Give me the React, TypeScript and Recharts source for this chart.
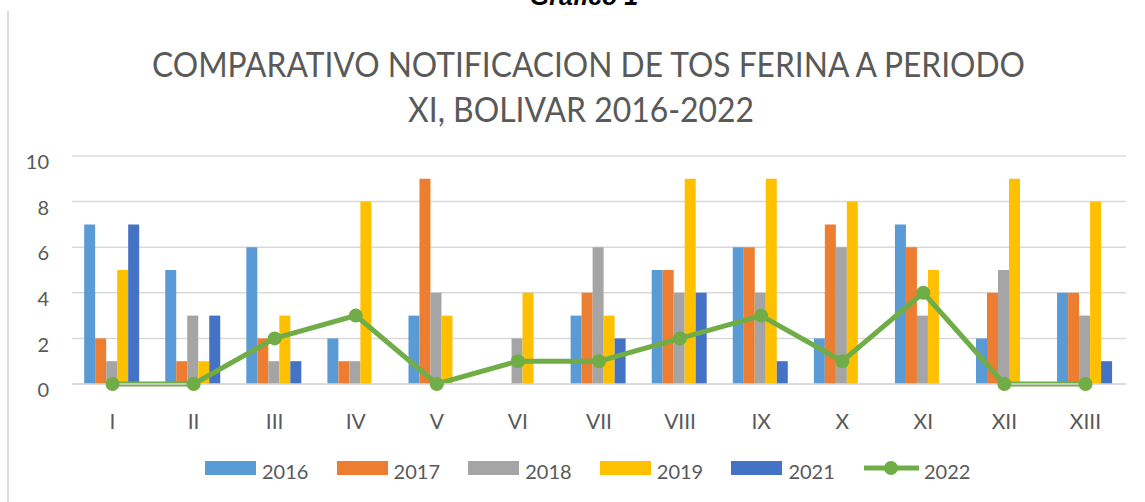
import React from 'react';
import { ComposedChart, Bar, Line, XAxis, YAxis, CartesianGrid, Legend } from 'recharts';

const periods = ['I', 'II', 'III', 'IV', 'V', 'VI', 'VII', 'VIII', 'IX', 'X', 'XI', 'XII', 'XIII'];
const cases2016 = [7, 5, 6, 2, 3, 0, 3, 5, 6, 2, 7, 2, 4];
const cases2017 = [2, 1, 2, 1, 9, 0, 4, 5, 6, 7, 6, 4, 4];
const cases2018 = [1, 3, 1, 1, 4, 2, 6, 4, 4, 6, 3, 5, 3];
const cases2019 = [5, 1, 3, 8, 3, 4, 3, 9, 9, 8, 5, 9, 8];
const cases2021 = [7, 3, 1, 0, 0, 0, 2, 4, 1, 0, 0, 0, 1];
const cases2022 = [0, 0, 2, 3, 0, 1, 1, 2, 3, 1, 4, 0, 0];
const yTicks = [0, 2, 4, 6, 8, 10];

const barSeries = [
  { key: 'y2016', name: '2016', color: '#5B9BD5' },
  { key: 'y2017', name: '2017', color: '#ED7D31' },
  { key: 'y2018', name: '2018', color: '#A5A5A5' },
  { key: 'y2019', name: '2019', color: '#FFC000' },
  { key: 'y2021', name: '2021', color: '#4472C4' },
];
const lineColor = '#70AD47';

const data = periods.map((p, i) => ({
  period: p,
  y2016: cases2016[i],
  y2017: cases2017[i],
  y2018: cases2018[i],
  y2019: cases2019[i],
  y2021: cases2021[i],
  y2022: cases2022[i],
}));

const FONT = 'Lato, "Open Sans", sans-serif';
const TEXT = '#595959';
const GRID = '#D9D9D9';

const YTick = ({ x, y, payload }: any) => (
  <text x={x} y={y + 6} dy="0.355em" textAnchor="end" fill={TEXT} fontSize={20} fontFamily={FONT}>
    {payload.value}
  </text>
);

const XTick = ({ x, y, payload }: any) => (
  <text x={x} y={y + 45} textAnchor="middle" fill={TEXT} fontSize={21} fontFamily={FONT}>
    {payload.value}
  </text>
);

const LegendContent = () => (
  <div style={{ display: 'flex', height: 30, paddingLeft: 205, fontFamily: FONT, fontSize: 20, color: TEXT }}>
    {barSeries.map((s) => (
      <div key={s.key} style={{ width: 131.6, position: 'relative', height: 30 }}>
        <div style={{ position: 'absolute', left: 0, top: 6, width: 51, height: 14, background: s.color }} />
        <span style={{ position: 'absolute', left: 57, top: 4 }}>{s.name}</span>
      </div>
    ))}
    <div style={{ width: 131.6, position: 'relative', height: 30 }}>
      <svg width={57} height={30} style={{ position: 'absolute', left: 0, top: 0 }}>
        <line x1={1} y1={13} x2={56} y2={13} stroke={lineColor} strokeWidth={5} />
        <circle cx={28} cy={13} r={7} fill={lineColor} />
      </svg>
      <span style={{ position: 'absolute', left: 61, top: 4 }}>2022</span>
    </div>
  </div>
);

export default function App() {
  return (
    <div style={{ position: 'absolute', left: 0, top: 0, width: 1145, height: 502, background: '#fff', overflow: 'hidden' }}>
      <div style={{ position: 'absolute', left: 7, top: 11, width: 2, height: 491, background: GRID }} />
      <ComposedChart
        width={1145}
        height={502}
        data={data}
        margin={{ top: 156, right: 19, left: 0, bottom: 38 }}
        barCategoryGap="15%"
        barGap={0}
      >
        <CartesianGrid vertical={false} stroke={GRID} strokeWidth={1.5} />
        <XAxis
          dataKey="period"
          height={50}
          tickLine={false}
          tickSize={0}
          tickMargin={0}
          axisLine={{ stroke: GRID, strokeWidth: 1.5 }}
          tick={<XTick />}
          interval={0}
        />
        <YAxis
          width={72}
          domain={[0, 10]}
          ticks={yTicks}
          axisLine={false}
          tickLine={false}
          tickSize={0}
          tickMargin={23}
          tick={<YTick />}
        />
        <Legend
          verticalAlign="bottom"
          content={<LegendContent />}
          wrapperStyle={{ left: 0, top: 455, bottom: 'auto', width: 1145, height: 30 }}
        />
        {barSeries.map((s) => (
          <Bar key={s.key} dataKey={s.key} name={s.name} fill={s.color} isAnimationActive={false} />
        ))}
        <Line
          dataKey="y2022"
          name="2022"
          type="linear"
          stroke={lineColor}
          strokeWidth={5}
          dot={{ r: 7, fill: lineColor, stroke: 'none' }}
          activeDot={false}
          isAnimationActive={false}
        />
      </ComposedChart>
      <svg width={1145} height={140} style={{ position: 'absolute', left: 0, top: 0, pointerEvents: 'none' }}>
        <text x={584} y={5} textAnchor="middle" fontFamily='"Liberation Sans", Arial, sans-serif' fontWeight="bold" fontStyle="italic" fontSize={25} fill="#000">
          Gráfico 1
        </text>
        <text x={152} y={77} textLength={873} lengthAdjust="spacingAndGlyphs" fontFamily={FONT} fontSize={35} fill={TEXT}>
          COMPARATIVO NOTIFICACION DE TOS FERINA A PERIODO
        </text>
        <text x={408} y={122} textLength={346} lengthAdjust="spacingAndGlyphs" fontFamily={FONT} fontSize={35} fill={TEXT}>
          XI, BOLIVAR 2016-2022
        </text>
      </svg>
    </div>
  );
}
